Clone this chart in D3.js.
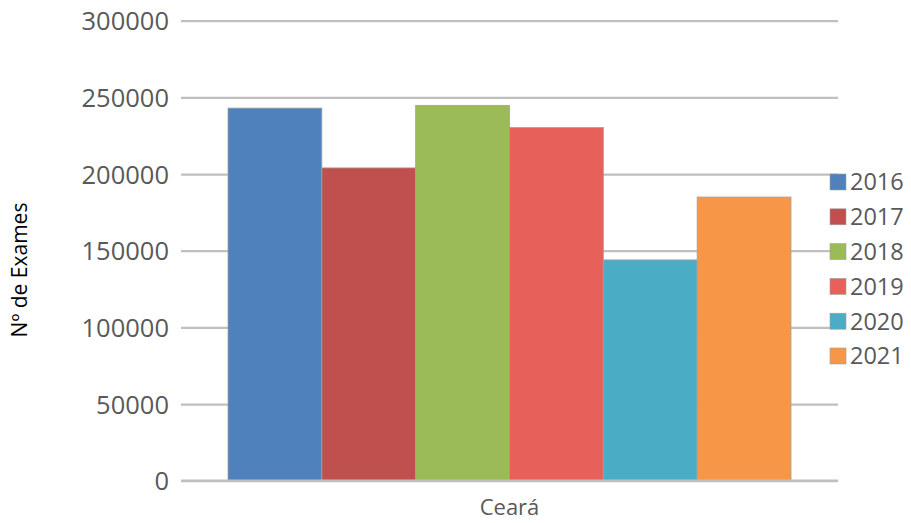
<!DOCTYPE html>
<html><head><meta charset="utf-8">
<script src="https://cdn.jsdelivr.net/npm/d3@7"></script>
<style>body{margin:0;background:#fff;}svg{display:block;}</style>
</head><body>
<svg id="chart" width="911" height="523"></svg>
<script>
const categories = ["Ceará"];
const years = ["2016","2017","2018","2019","2020","2021"];
const values2016 = [243000];
const values2017 = [204000];
const values2018 = [244800];
const values2019 = [230300];
const values2020 = [144000];
const values2021 = [185000];
const yTicks = [0, 50000, 100000, 150000, 200000, 250000, 300000];
const colors = ["#4F81BD","#C0504D","#9BBB59","#E8605A","#4BACC6","#F79646"];
const yTitle = "Nº de Exames";

const series = [values2016, values2017, values2018, values2019, values2020, values2021];
const svg = d3.select("#chart");
const plotL = 181, plotR = 838, plotT = 20.7, plotB = 480.7;
const y = d3.scaleLinear().domain([0, 300000]).range([plotB, plotT]);
const x0 = d3.scaleBand().domain(categories).range([plotL, plotR]).paddingInner(0).paddingOuter(0.0835);
const x1 = d3.scaleBand().domain(years).range([0, x0.bandwidth()]).padding(0);
const font = "'Open Sans', sans-serif";

// gridlines
const yAxis = d3.axisLeft(y).tickValues(yTicks).tickSize(-(plotR - plotL)).tickPadding(12).tickFormat(d3.format("d"));
const ga = svg.append("g").attr("transform", `translate(${plotL},0)`).call(yAxis);
ga.select(".domain").remove();
ga.selectAll(".tick line").attr("stroke", "#BFBFBF").attr("stroke-width", 2.2);
ga.selectAll(".tick text").attr("fill", "#595959").style("font-family", font).style("font-size", "25.5px").attr("dy", "0.36em");

// bars
const g = svg.append("g");
categories.forEach((c, ci) => {
  years.forEach((yr, i) => {
    const v = series[i][ci];
    g.append("rect")
      .attr("x", x0(c) + x1(yr))
      .attr("y", y(v))
      .attr("width", x1.bandwidth())
      .attr("height", y(0) - y(v))
      .attr("fill", colors[i])
      .attr("stroke", "#A0A0A0")
      .attr("stroke-width", 0.8);
  });
  svg.append("text")
    .attr("x", x0(c) + x0.bandwidth() / 2)
    .attr("y", 515)
    .attr("text-anchor", "middle")
    .attr("fill", "#595959")
    .style("font-family", font).style("font-size", "22px")
    .text(c);
});

// baseline redraw on top
svg.append("line").attr("x1", plotL).attr("x2", plotR).attr("y1", y(0)).attr("y2", y(0))
  .attr("stroke", "#BFBFBF").attr("stroke-width", 2.2);

// legend
const leg = svg.append("g");
years.forEach((yr, i) => {
  const ly = 174 + i * 34.8;
  leg.append("rect").attr("x", 830).attr("y", ly).attr("width", 16).attr("height", 16)
    .attr("fill", colors[i]).attr("stroke", "#A0A0A0").attr("stroke-width", 0.6);
  leg.append("text").attr("x", 850).attr("y", ly + 8).attr("dy", "0.36em")
    .attr("fill", "#595959").style("font-family", font).style("font-size", "23.5px").text(yr);
});

// y title
svg.append("text")
  .attr("transform", "translate(27,270) rotate(-90)")
  .attr("text-anchor", "middle")
  .attr("fill", "#000")
  .style("font-family", font).style("font-size", "21px")
  .text(yTitle);
</script>
</body></html>
